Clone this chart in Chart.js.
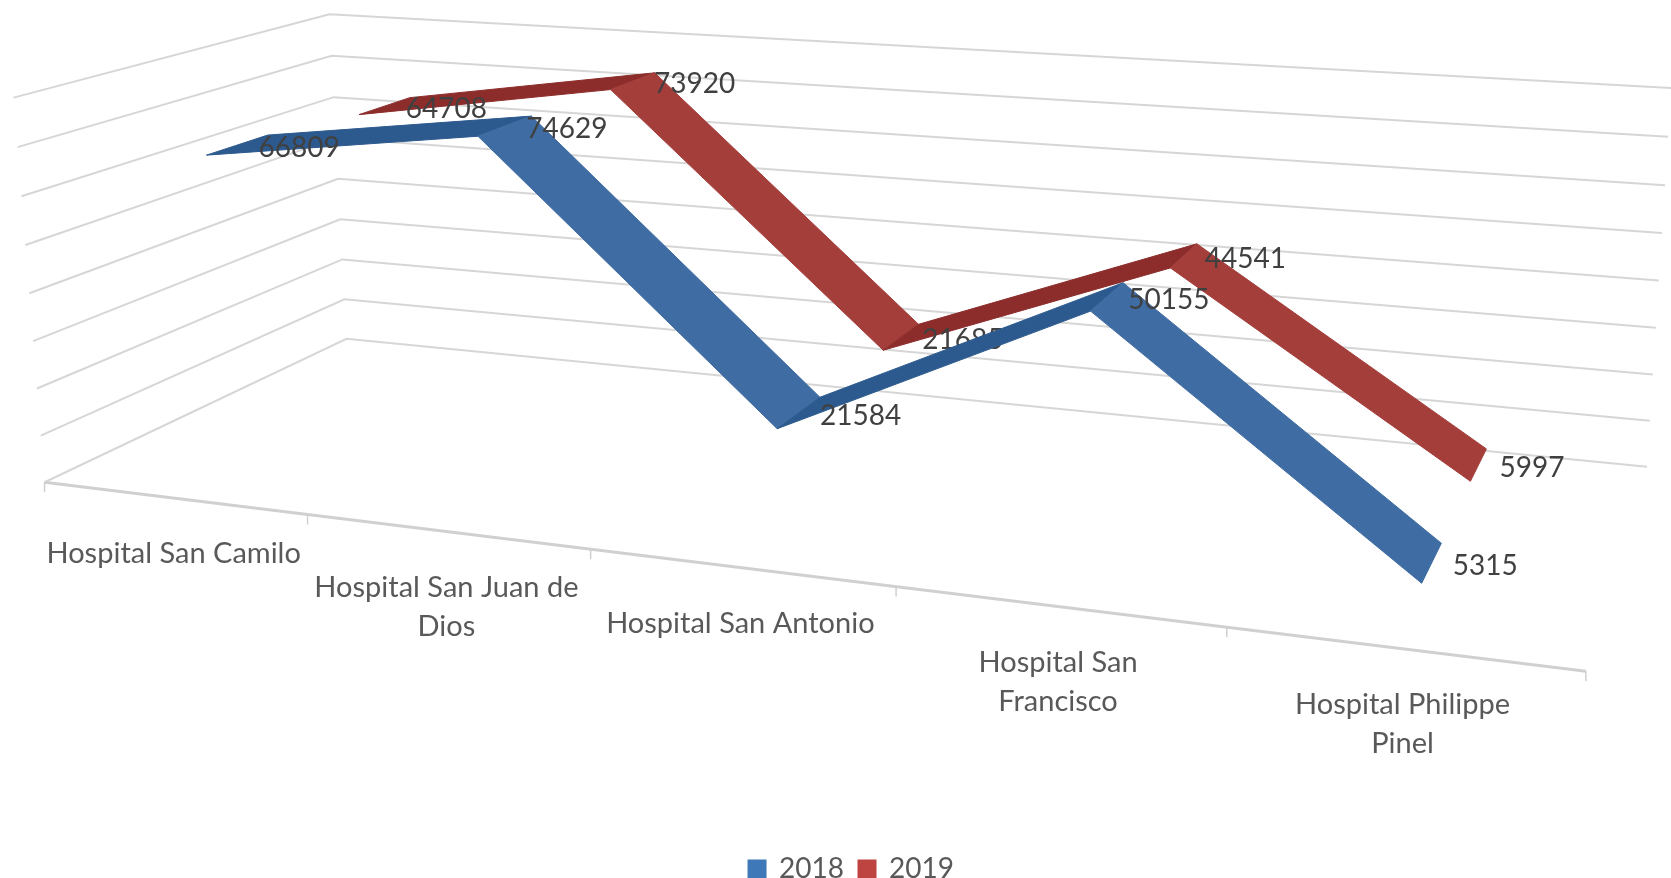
<!DOCTYPE html>
<html>
<head>
<meta charset="utf-8">
<title>Hospitales 2018 - 2019</title>
<script src="https://cdn.jsdelivr.net/npm/chart.js@4/dist/chart.umd.min.js"></script>
<style>
  body { margin: 0; background: #fff; }
  canvas { display: block; filter: blur(0.6px); }
</style>
</head>
<body>
<canvas id="lineChart" width="1671" height="878"></canvas>
<script>
const categories = [
  'Hospital San Camilo',
  ['Hospital San Juan de', 'Dios'],
  'Hospital San Antonio',
  ['Hospital San', 'Francisco'],
  ['Hospital Philippe', 'Pinel']
];
const values2018 = [66809, 74629, 21584, 50155, 5315];
const values2019 = [64708, 73920, 21685, 44541, 5997];
const valueMax = 80000;
const valueStep = 10000;

// Corners of the 3D box: [across, up, depth] -> picture position
const boxCorners = [
  [0, 0, 0, 45, 482],
  [1, 0, 0, 1586, 671],
  [0, 0, 1, 346, 339],
  [1, 0, 1, 1647, 467],
  [0, 1, 0, 13, 98],
  [0, 1, 1, 330, 14],
  [1, 1, 1, 1671, 88]
];

// Least squares fit of the projection through the corners
function fitProjection(corners) {
  const rows = [];
  const rhs = [];
  corners.forEach(([X, Y, Z, x, y]) => {
    rows.push([X, Y, Z, 1, 0, 0, 0, 0, -x * X, -x * Y, -x * Z]);
    rhs.push(x);
    rows.push([0, 0, 0, 0, X, Y, Z, 1, -y * X, -y * Y, -y * Z]);
    rhs.push(y);
  });
  const n = 11;
  const m = [];
  for (let i = 0; i < n; i++) {
    m.push([]);
    for (let j = 0; j <= n; j++) {
      let sum = 0;
      rows.forEach((row, k) => { sum += row[i] * (j < n ? row[j] : rhs[k]); });
      m[i].push(sum);
    }
  }
  for (let i = 0; i < n; i++) {
    let best = i;
    for (let k = i + 1; k < n; k++) {
      if (Math.abs(m[k][i]) > Math.abs(m[best][i])) best = k;
    }
    [m[i], m[best]] = [m[best], m[i]];
    for (let k = 0; k < n; k++) {
      if (k === i) continue;
      const f = m[k][i] / m[i][i];
      for (let j = i; j <= n; j++) m[k][j] -= f * m[i][j];
    }
  }
  return m.map((row, i) => row[n] / row[i]);
}

const p = fitProjection(boxCorners);

function project(X, Y, Z) {
  const w = p[8] * X + p[9] * Y + p[10] * Z + 1;
  return {
    x: (p[0] * X + p[1] * Y + p[2] * Z + p[3]) / w,
    y: (p[4] * X + p[5] * Y + p[6] * Z + p[7]) / w
  };
}

// Takes the pixels of the chart's own scales and puts them in the box
function toBox(chart, px, py, depth) {
  const area = chart.chartArea;
  return project((px - area.left) / area.width, (area.bottom - py) / area.height, depth);
}

function polyline(ctx, points) {
  ctx.beginPath();
  points.forEach((pt, i) => {
    if (i === 0) ctx.moveTo(pt.x, pt.y);
    else ctx.lineTo(pt.x, pt.y);
  });
}

function drawWalls(chart) {
  const { ctx, scales: { x, y }, chartArea } = chart;
  ctx.strokeStyle = '#d6d6d6';
  ctx.lineWidth = 2;
  y.ticks.forEach((tick) => {
    const py = y.getPixelForValue(tick.value);
    polyline(ctx, [
      toBox(chart, chartArea.left, py, 0),
      toBox(chart, chartArea.left, py, 1),
      toBox(chart, chartArea.right, py, 1)
    ]);
    ctx.stroke();
  });

  // front edge of the floor and its tick marks
  ctx.strokeStyle = '#d0d0d0';
  ctx.lineWidth = 3;
  polyline(ctx, [
    toBox(chart, chartArea.left, chartArea.bottom, 0),
    toBox(chart, chartArea.right, chartArea.bottom, 0)
  ]);
  ctx.stroke();
  ctx.lineWidth = 1.5;
  categories.concat(['']).forEach((c, i) => {
    const pt = toBox(chart, x.getPixelForValue(i - 0.5), chartArea.bottom, 0);
    polyline(ctx, [pt, { x: pt.x, y: pt.y + 10 }]);
    ctx.stroke();
  });
}

function drawCategoryLabels(chart) {
  const { ctx, scales: { x }, chartArea } = chart;
  ctx.fillStyle = '#595959';
  ctx.font = '29px Lato';
  ctx.textAlign = 'center';
  ctx.textBaseline = 'middle';
  categories.forEach((label, i) => {
    const pt = toBox(chart, x.getPixelForValue(i), chartArea.bottom, 0);
    [].concat(label).forEach((line, j) => {
      ctx.fillText(line, pt.x, pt.y + 56 + j * 39);
    });
  });
}

function drawSeries(chart, index, depthFront, depthBack, mainColor, darkColor) {
  const { ctx, scales: { x, y } } = chart;
  const values = chart.data.datasets[index].data;
  const pointAt = (v, i, depth) => toBox(chart, x.getPixelForValue(i), y.getPixelForValue(v), depth);
  const front = values.map((v, i) => pointAt(v, i, depthFront));
  const back = values.map((v, i) => pointAt(v, i, depthBack));

  for (let i = 0; i < values.length - 1; i++) {
    // rising stretches show the shaded side of the ribbon
    const color = values[i + 1] > values[i] ? darkColor : mainColor;
    polyline(ctx, [front[i], front[i + 1], back[i + 1], back[i]]);
    ctx.closePath();
    ctx.fillStyle = color;
    ctx.strokeStyle = color;
    ctx.lineWidth = 1;
    ctx.fill();
    ctx.stroke();
  }

  // labels sit to the right of the ribbon's middle line
  ctx.fillStyle = '#404040';
  ctx.font = '28px Lato';
  ctx.textAlign = 'left';
  ctx.textBaseline = 'middle';
  values.forEach((v, i) => {
    const mid = pointAt(v, i, (depthFront + depthBack) / 2);
    ctx.fillText(v, mid.x + 21, mid.y + 3);
  });
}

const ribbonPlugin = {
  id: 'ribbon3d',
  beforeDatasetsDraw(chart) {
    const ctx = chart.ctx;
    ctx.save();
    drawWalls(chart);
    drawCategoryLabels(chart);
    // back series first so the front one covers it
    drawSeries(chart, 1, 0.66, 0.85, '#a43e3b', '#8c2d2b');
    drawSeries(chart, 0, 0.16, 0.35, '#3f6ca3', '#2d5a8e');
    ctx.restore();
  }
};

new Chart(document.getElementById('lineChart').getContext('2d'), {
  type: 'line',
  data: {
    labels: categories,
    datasets: [
      { label: '2018', data: values2018, backgroundColor: '#3f78b8', borderColor: '#3f78b8', showLine: false, pointRadius: 0 },
      { label: '2019', data: values2019, backgroundColor: '#be4441', borderColor: '#be4441', showLine: false, pointRadius: 0 }
    ]
  },
  options: {
    responsive: false,
    animation: false,
    layout: { padding: { left: 32, right: 0, top: 10, bottom: -15 } },
    scales: {
      x: { display: false, offset: true },
      y: { display: false, min: 0, max: valueMax, ticks: { stepSize: valueStep } }
    },
    plugins: {
      tooltip: { enabled: false },
      legend: {
        position: 'bottom',
        labels: {
          boxWidth: 16,
          boxHeight: 16,
          padding: 15,
          color: '#595959',
          font: { family: 'Lato', size: 28 }
        }
      }
    }
  },
  plugins: [ribbonPlugin]
});
</script>
</body>
</html>
